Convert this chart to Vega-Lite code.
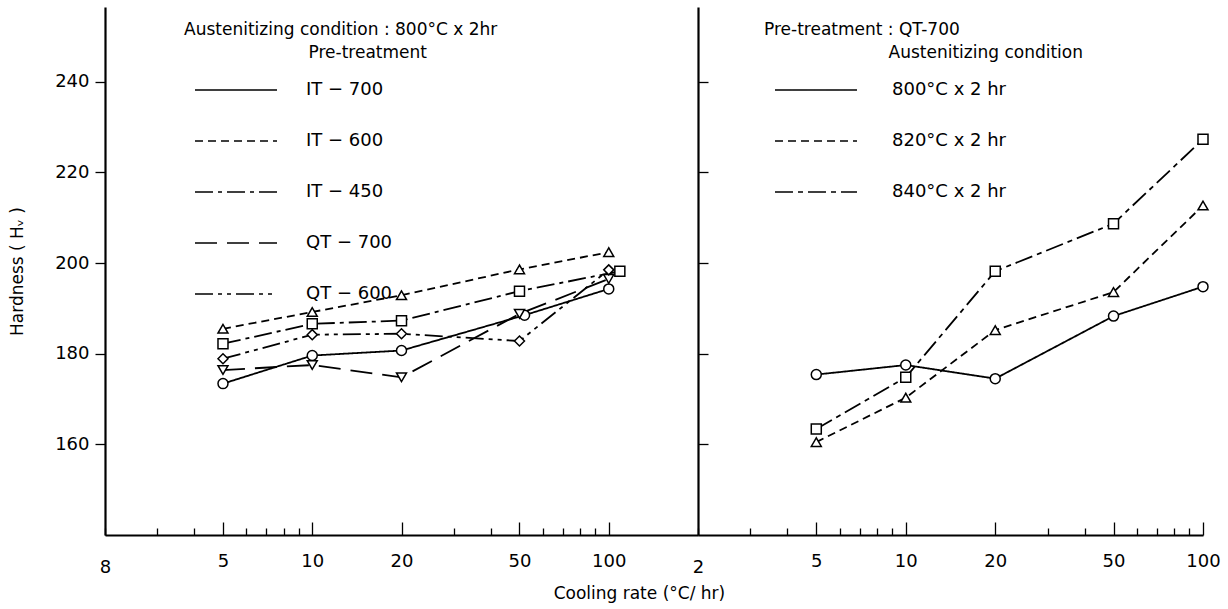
{
  "$schema": "https://vega.github.io/schema/vega-lite/v6.json",
  "background": "white",
  "padding": {"left": 8, "top": 7, "right": 5, "bottom": 5},
  "bounds": "flush",
  "spacing": 0,
  "title": {"text": "Cooling rate  (°C/ hr)", "orient": "bottom", "anchor": "middle", "fontSize": 17, "fontWeight": "normal", "font": "DejaVu Sans", "color": "black", "offset": 10, "dx": 25},
  "config": {
    "view": {"stroke": null},
    "font": "DejaVu Sans",
    "axis": {"domainColor": "black", "tickColor": "black", "labelColor": "black", "titleColor": "black", "labelFont": "DejaVu Sans", "labelFontSize": 18, "grid": false, "titleFont": "DejaVu Sans"},
    "legend": {
      "orient": "none", "padding": 0, "direction": "vertical",
      "labelFont": "DejaVu Sans", "labelFontSize": 18, "labelColor": "black", "labelLimit": 300,
      "titleFont": "DejaVu Sans", "titleFontSize": 17, "titleFontWeight": "normal", "titleColor": "black", "titleLimit": 600,
      "titleLineHeight": 23, "titlePadding": -14, "titleAnchor": "start", "titleAlign": "left",
      "symbolStrokeWidth": 1.6, "symbolStrokeColor": "black",
      "rowPadding": -24, "labelBaseline": "middle"
    }
  },
  "datasets": {
    "left": [
      {"rate": 5, "hardness": 173.4, "pre": "IT-700"},
      {"rate": 10, "hardness": 179.6, "pre": "IT-700"},
      {"rate": 20, "hardness": 180.7, "pre": "IT-700"},
      {"rate": 52, "hardness": 188.5, "pre": "IT-700"},
      {"rate": 100, "hardness": 194.3, "pre": "IT-700"},
      {"rate": 5, "hardness": 185.5, "pre": "IT-600"},
      {"rate": 10, "hardness": 189.2, "pre": "IT-600"},
      {"rate": 20, "hardness": 192.9, "pre": "IT-600"},
      {"rate": 50, "hardness": 198.6, "pre": "IT-600"},
      {"rate": 100, "hardness": 202.4, "pre": "IT-600"},
      {"rate": 5, "hardness": 182.2, "pre": "IT-450"},
      {"rate": 10, "hardness": 186.6, "pre": "IT-450"},
      {"rate": 20, "hardness": 187.3, "pre": "IT-450"},
      {"rate": 50, "hardness": 193.8, "pre": "IT-450"},
      {"rate": 109, "hardness": 198.2, "pre": "IT-450"},
      {"rate": 5, "hardness": 176.4, "pre": "QT-700"},
      {"rate": 10, "hardness": 177.5, "pre": "QT-700"},
      {"rate": 20, "hardness": 174.8, "pre": "QT-700"},
      {"rate": 50, "hardness": 188.8, "pre": "QT-700"},
      {"rate": 100, "hardness": 196.5, "pre": "QT-700"},
      {"rate": 5, "hardness": 178.9, "pre": "QT-600"},
      {"rate": 10, "hardness": 184.2, "pre": "QT-600"},
      {"rate": 20, "hardness": 184.4, "pre": "QT-600"},
      {"rate": 50, "hardness": 182.8, "pre": "QT-600"},
      {"rate": 100, "hardness": 198.5, "pre": "QT-600"}
    ],
    "right": [
      {"rate": 5, "hardness": 175.4, "aus": "800°C x 2hr"},
      {"rate": 10, "hardness": 177.5, "aus": "800°C x 2hr"},
      {"rate": 20, "hardness": 174.5, "aus": "800°C x 2hr"},
      {"rate": 50, "hardness": 188.3, "aus": "800°C x 2hr"},
      {"rate": 100, "hardness": 194.8, "aus": "800°C x 2hr"},
      {"rate": 5, "hardness": 160.5, "aus": "820°C x 2hr"},
      {"rate": 10, "hardness": 170.3, "aus": "820°C x 2hr"},
      {"rate": 20, "hardness": 185.2, "aus": "820°C x 2hr"},
      {"rate": 50, "hardness": 193.6, "aus": "820°C x 2hr"},
      {"rate": 100, "hardness": 212.7, "aus": "820°C x 2hr"},
      {"rate": 5, "hardness": 163.4, "aus": "840°C x 2hr"},
      {"rate": 10, "hardness": 174.8, "aus": "840°C x 2hr"},
      {"rate": 20, "hardness": 198.2, "aus": "840°C x 2hr"},
      {"rate": 50, "hardness": 208.7, "aus": "840°C x 2hr"},
      {"rate": 100, "hardness": 227.3, "aus": "840°C x 2hr"}
    ]
  },
  "resolve": {"scale": {"shape": "independent", "strokeDash": "independent", "x": "independent", "y": "independent"}, "legend": {"shape": "independent", "strokeDash": "independent"}},
  "hconcat": [
    {
      "width": 593, "height": 528,
      "data": {"name": "left"},
      "encoding": {
        "x": {"field": "rate", "type": "quantitative",
          "scale": {"type": "log", "domain": [2, 200], "nice": false},
          "axis": {"title": null, "values": [2,3,4,5,6,7,8,9,10,20,30,40,50,60,70,80,90,100],
            "labelExpr": "datum.value == 2 ? '8' : (indexof([5,10,20,50,100], datum.value) >= 0 ? '' + datum.value : '')",
            "tickSize": {"condition": {"test": "indexof([5,10,20,50,100], datum.value) >= 0", "value": -13}, "value": -7},
            "labelPadding": 30, "domainWidth": 2, "tickWidth": 1.3, "labelFlush": false, "labelOverlap": false}},
        "y": {"field": "hardness", "type": "quantitative",
          "scale": {"domain": [140, 256.5], "nice": false, "zero": false},
          "axis": {"title": "Hardness  ( Hᵥ )", "values": [160,180,200,220,240], "tickSize": 10, "tickWidth": 1.3, "labelPadding": 6, "domainWidth": 2.2, "titleFontSize": 17, "titleFontWeight": "normal", "titlePadding": 28}}
      },
      "layer": [
        {"mark": {"type": "line", "strokeWidth": 1.8, "color": "black"},
         "encoding": {"strokeDash": {"field": "pre", "type": "nominal",
           "scale": {"domain": ["IT-700","IT-600","IT-450","QT-700","QT-600"], "range": [[1,0],[8,5],[18,5,4,5],[22,10],[18,5,4,5,4,5]]},
           "legend": {"title": ["Austenitizing  condition : 800°C x 2hr", "\u2800\u2800\u2800\u2800\u2800\u2800\u2800\u2800\u2800\u2800Pre-treatment"],
             "legendX": 79, "legendY": 15, "symbolType": "stroke", "symbolSize": 6724, "symbolOffset": 10, "labelOffset": 28,
             "labelExpr": "replace(datum.label, '-', ' − ')"}}}},
        {"mark": {"type": "point", "filled": false, "fill": "white", "stroke": "black", "strokeWidth": 1.5, "size": 100, "opacity": 1},
         "encoding": {"shape": {"field": "pre", "type": "nominal", "legend": null,
           "scale": {"domain": ["IT-700","IT-600","IT-450","QT-700","QT-600","_m"], "range": ["circle","triangle-up","square","triangle-down","diamond","circle"]}}}}
      ]
    },
    {
      "width": 505, "height": 528,
      "data": {"name": "right"},
      "encoding": {
        "x": {"field": "rate", "type": "quantitative",
          "scale": {"type": "log", "domain": [2, 100], "nice": false},
          "axis": {"title": null, "values": [2,3,4,5,6,7,8,9,10,20,30,40,50,60,70,80,90,100],
            "labelExpr": "indexof([2,5,10,20,50,100], datum.value) >= 0 ? '' + datum.value : ''",
            "tickSize": {"condition": {"test": "indexof([5,10,20,50,100], datum.value) >= 0", "value": -13}, "value": -7},
            "labelPadding": 30, "domainWidth": 2, "tickWidth": 1.3, "labelFlush": false, "labelOverlap": false}},
        "y": {"field": "hardness", "type": "quantitative",
          "scale": {"domain": [140, 256.5], "nice": false, "zero": false},
          "axis": {"title": null, "labels": false, "values": [160,180,200,220,240], "tickSize": -10, "tickWidth": 1.3, "domainWidth": 2.2}}
      },
      "layer": [
        {"mark": {"type": "line", "strokeWidth": 1.8, "color": "black"},
         "encoding": {"strokeDash": {"field": "aus", "type": "nominal",
           "scale": {"domain": ["800°C x 2hr","820°C x 2hr","840°C x 2hr"], "range": [[1,0],[8,5],[18,5,5,5]]},
           "legend": {"title": ["Pre-treatment : QT-700", "\u2800\u2800\u2800\u2800\u2800\u2800\u2800\u2800\u2800\u2800Austenitizing  condition"],
             "legendX": 66, "legendY": 15, "symbolType": "stroke", "symbolSize": 6724, "symbolOffset": 10, "labelOffset": 34,
             "labelExpr": "replace(datum.label, 'hr', ' hr')"}}}},
        {"mark": {"type": "point", "filled": false, "fill": "white", "stroke": "black", "strokeWidth": 1.5, "size": 100, "opacity": 1},
         "encoding": {"shape": {"field": "aus", "type": "nominal", "legend": null,
           "scale": {"domain": ["800°C x 2hr","820°C x 2hr","840°C x 2hr","_m"], "range": ["circle","triangle-up","square","circle"]}}}}
      ]
    }
  ]
}
